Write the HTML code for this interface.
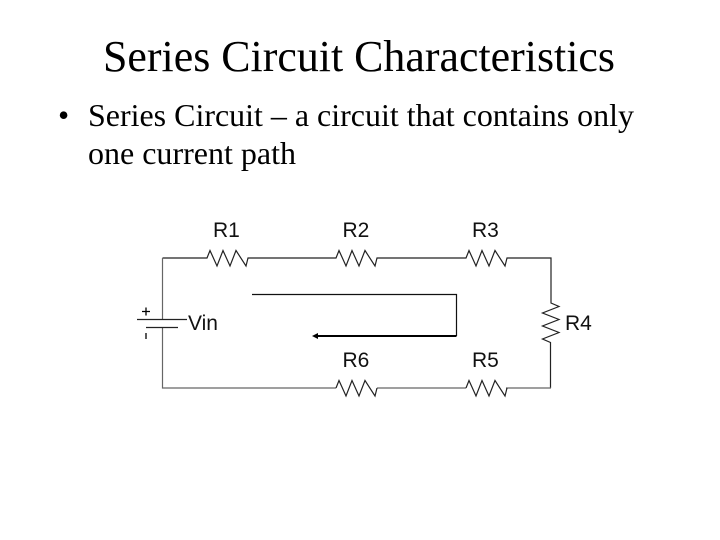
<!DOCTYPE html>
<html>
<head>
<meta charset="utf-8">
<style>
html,body{margin:0;padding:0;background:#fff}
svg{display:block}
.s{font-family:"Liberation Serif",serif;fill:#000}
.a{font-family:"Liberation Sans",sans-serif;fill:#111;font-size:21px}
</style>
</head>
<body>
<svg width="720" height="540" viewBox="0 0 720 540" xmlns="http://www.w3.org/2000/svg">
<rect width="720" height="540" fill="#fff"/>
<text class="s" x="359" y="71" font-size="44" text-anchor="middle" textLength="512" lengthAdjust="spacingAndGlyphs">Series Circuit Characteristics</text>
<text class="s" x="58" y="126" font-size="32">•</text>
<text class="s" x="88" y="126" font-size="32" textLength="546" lengthAdjust="spacingAndGlyphs">Series Circuit – a circuit that contains only</text>
<text class="s" x="88" y="164" font-size="32" textLength="208" lengthAdjust="spacingAndGlyphs">one current path</text>

<g fill="none" stroke="#222" stroke-width="1.2">
<path d="M162.500 258H207l3-7.500 7 15.500 6-15.500 7 15.500 6-15.500 10 15.500 2-8H336l3-7.500 7 15.500 6-15.500 7 15.500 6-15.500 10 15.500 2-8H466l3-7.500 7 15.500 6-15.500 7 15.500 6-15.500 10 15.500 2-8H551V303l8 3.500-16.500 6.500 16.500 6.500-16.500 6.500 16.500 6.500-16.500 6.500 8 3.500V388" />
<path d="M551 388H506M466 388H377M336 388H162.500V327M162.500 319V258" stroke="#666"/>
<path d="M336 388l3-7.500 7 15.500 6-15.500 7 15.500 6-15.500 10 15.500 2-8M466 388l3-7.500 7 15.500 6-15.500 7 15.500 6-15.500 10 15.500 2-8"/>
<path d="M137 319.500H187M146 327.500H178" stroke-width="1.300"/>
<path d="M142 311.500H150M146 307.500V315.500M146 333V339" stroke="#000" stroke-width="1.300"/>
<path d="M252 294.500H456.500V336" stroke="#111"/>
</g>
<path d="M456.500 336H317" fill="none" stroke="#000" stroke-width="2"/>
<path d="M312 336L318 333V339Z" fill="#000"/>

<text class="a" x="213" y="237">R1</text>
<text class="a" x="342.500" y="237">R2</text>
<text class="a" x="472" y="237">R3</text>
<text class="a" x="565" y="330">R4</text>
<text class="a" x="472" y="367">R5</text>
<text class="a" x="342.500" y="367">R6</text>
<text class="a" x="188" y="330">Vin</text>
</svg>
</body>
</html>
